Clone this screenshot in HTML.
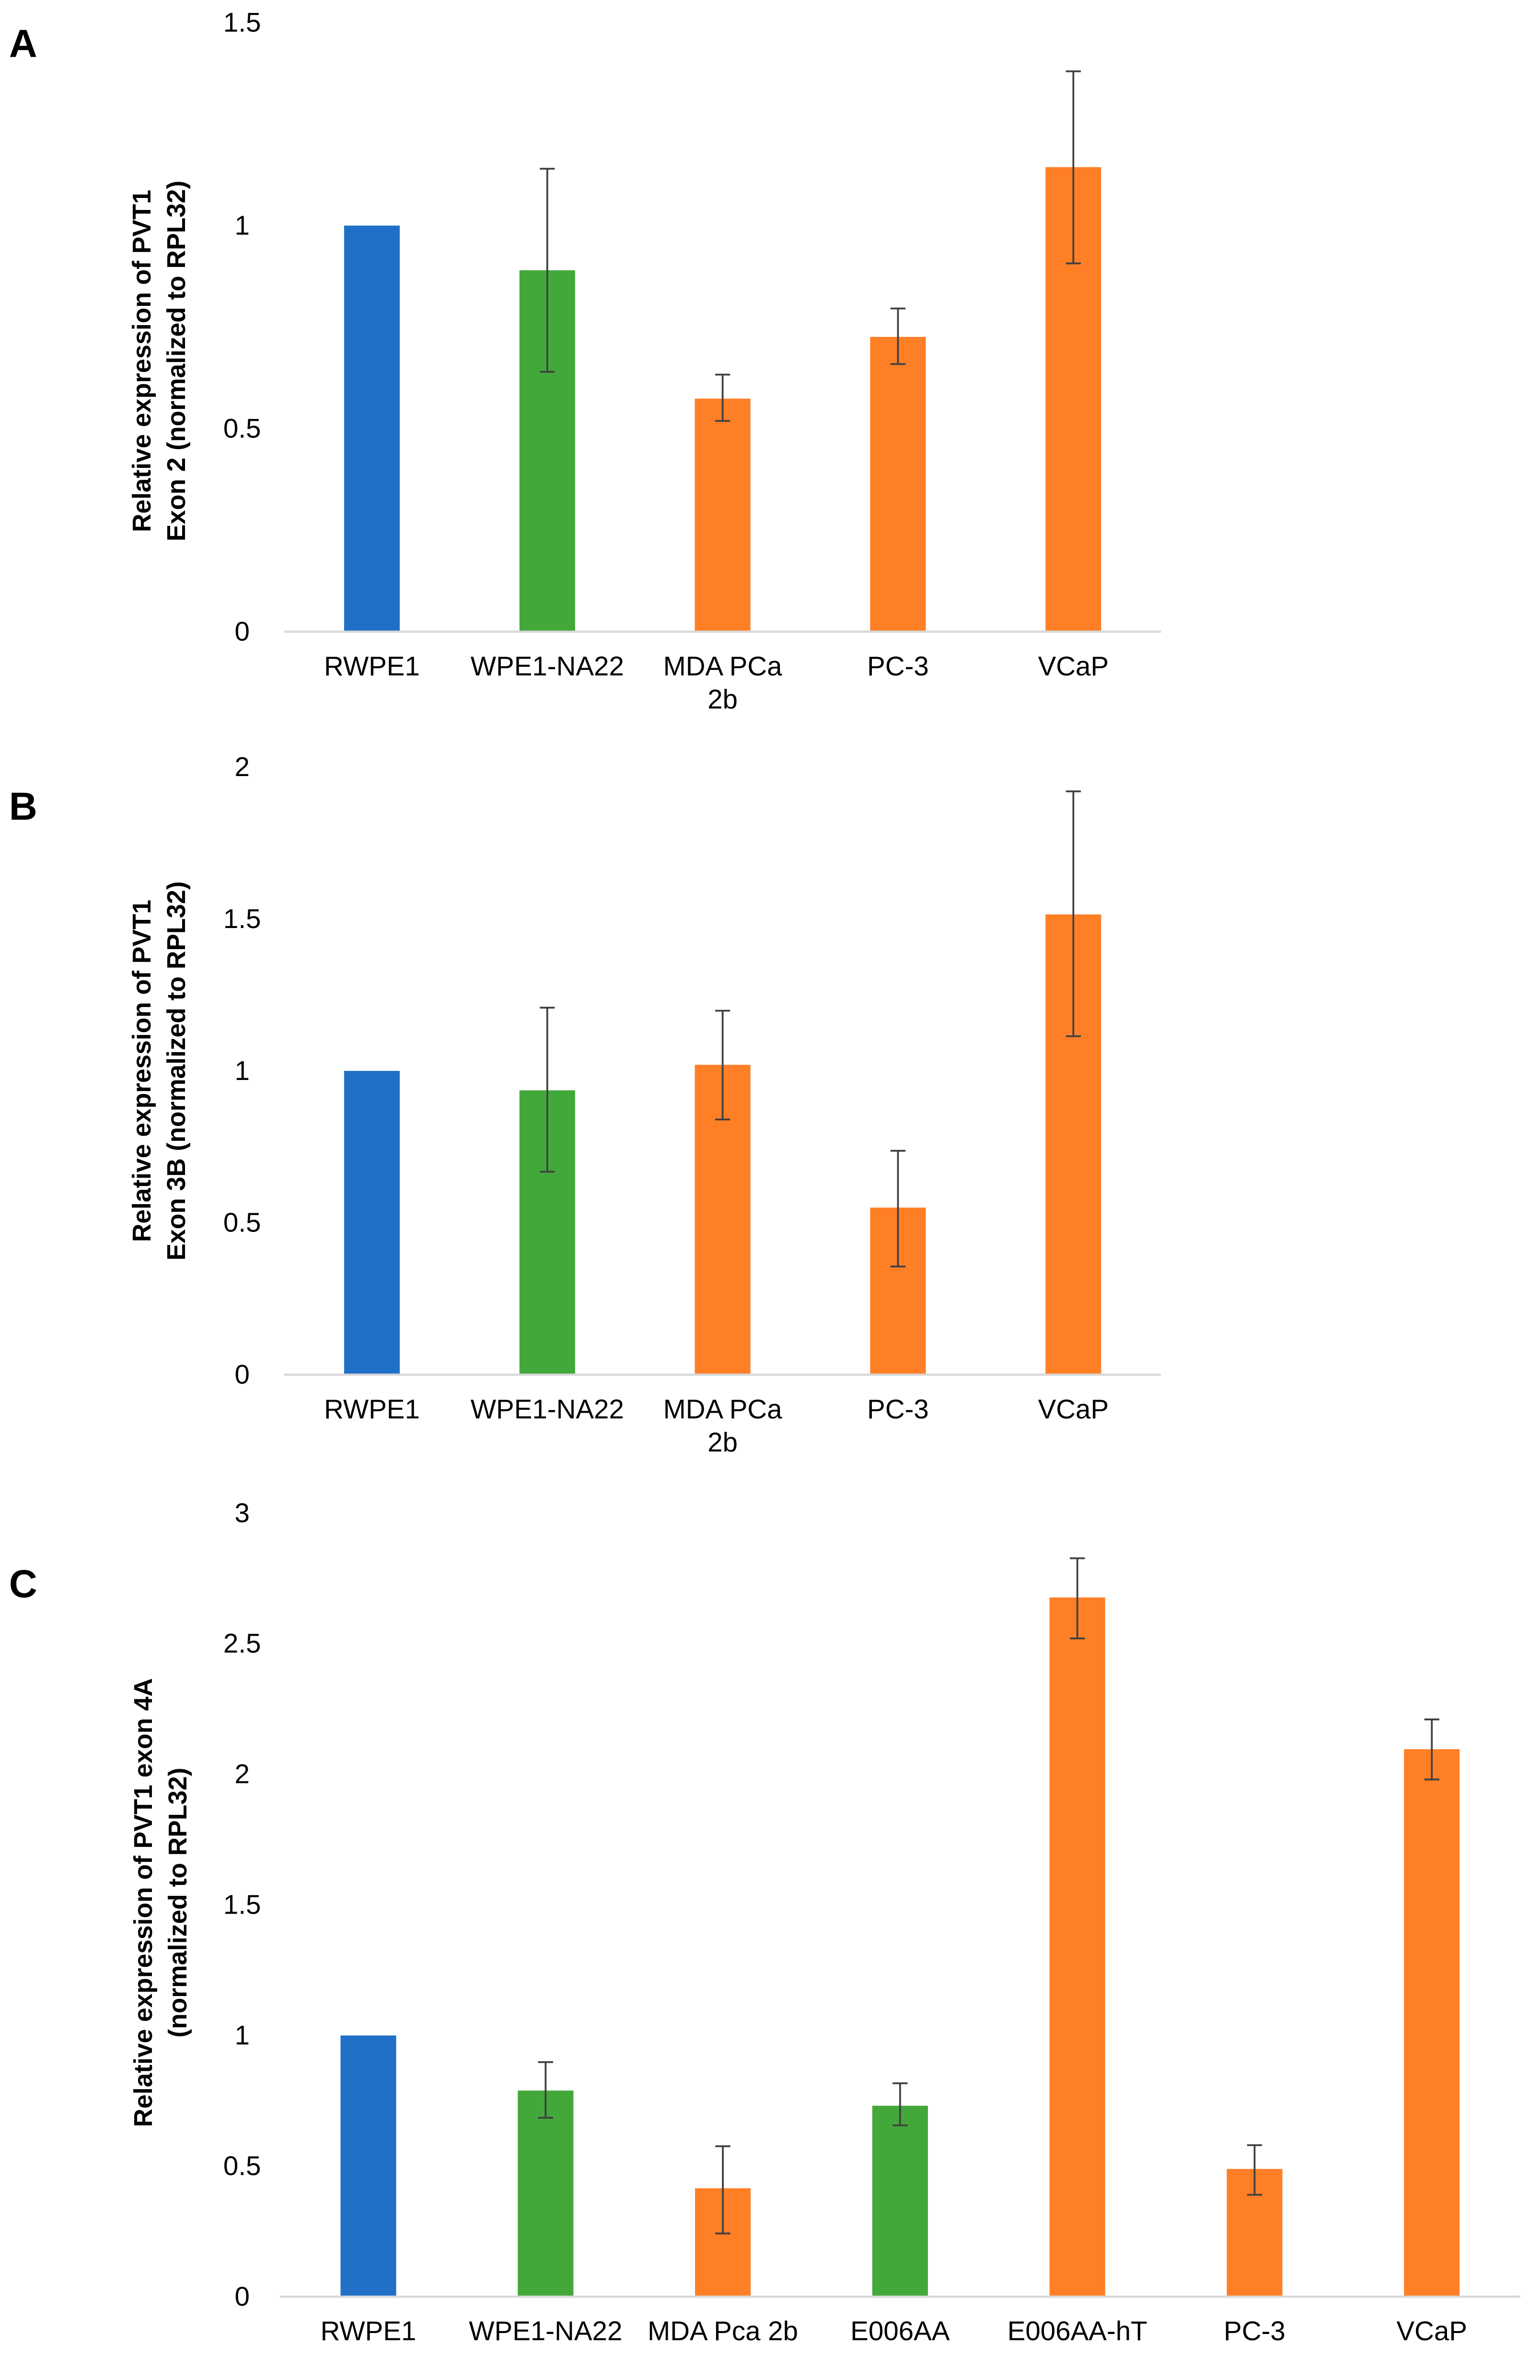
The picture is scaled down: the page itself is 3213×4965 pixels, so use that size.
<!DOCTYPE html>
<html><head><meta charset="utf-8">
<style>
html,body{margin:0;padding:0;background:#fff;}
svg{display:block;}
text{font-family:"Liberation Sans Narrow","Liberation Sans",sans-serif;fill:#000;}
.tick{font-size:18px;}
.title{font-size:17px;font-weight:bold;font-family:"Liberation Sans",sans-serif;}
.panel{font-size:26px;font-weight:bold;font-family:"Liberation Sans",sans-serif;}
</style></head>
<body>
<svg id="fig" width="3213" height="4965" viewBox="0 0 1024 1582.4" xmlns="http://www.w3.org/2000/svg"></svg>
<script>
// Panel A
const catsA = ["RWPE1","WPE1-NA22","MDA PCa|2b","PC-3","VCaP"];
const valsA = [1.0,0.89,0.574,0.726,1.144];
const errLoA = [1.0,0.64,0.519,0.659,0.907];
const errHiA = [1.0,1.14,0.633,0.796,1.38];
const colA = ["#2070c8","#43a83a","#ff7f27","#ff7f27","#ff7f27"];
const ticksA = ["0","0.5","1","1.5"];
const tickValsA = [0,0.5,1,1.5];
// Panel B
const catsB = ["RWPE1","WPE1-NA22","MDA PCa|2b","PC-3","VCaP"];
const valsB = [1.0,0.936,1.02,0.55,1.515];
const errLoB = [1.0,0.668,0.84,0.356,1.114];
const errHiB = [1.0,1.208,1.198,0.737,1.92];
const colB = ["#2070c8","#43a83a","#ff7f27","#ff7f27","#ff7f27"];
const ticksB = ["0","0.5","1","1.5","2"];
const tickValsB = [0,0.5,1,1.5,2];
// Panel C
const catsC = ["RWPE1","WPE1-NA22","MDA Pca 2b","E006AA","E006AA-hT","PC-3","VCaP"];
const valsC = [1.0,0.789,0.415,0.731,2.677,0.489,2.096];
const errLoC = [1.0,0.685,0.242,0.656,2.52,0.39,1.98];
const errHiC = [1.0,0.898,0.576,0.817,2.827,0.58,2.21];
const colC = ["#2070c8","#43a83a","#ff7f27","#43a83a","#ff7f27","#ff7f27","#ff7f27"];
const ticksC = ["0","0.5","1","1.5","2","2.5","3"];
const tickValsC = [0,0.5,1,1.5,2,2.5,3];

const NS="http://www.w3.org/2000/svg";
const svg=document.getElementById('fig');
function mk(tag,attrs,parent){const e=document.createElementNS(NS,tag);for(const k in attrs)e.setAttribute(k,attrs[k]);(parent||svg).appendChild(e);return e;}

function panel(p){
  const g=mk('g',{});
  
  
  const yMax=p.tickVals[p.tickVals.length-1];
  const y=v=>p.y0-(v/yMax)*(p.y0-p.yTop);
  const band=(p.x1-p.x0)/p.cats.length;
  const xc=i=>p.x0+band*(i+0.5);
  // panel letter
  const L=mk('text',{x:p.letterX,y:p.letterY,class:'panel'},g);L.textContent=p.letter;
  
  
  // ticks
  p.ticks.forEach((t,i)=>{
    const tx=mk('text',{x:p.tickX,y:y(p.tickVals[i])+6,class:'tick','text-anchor':'middle'},g);
    tx.textContent=t;
    
    
  });
  // bars
  p.vals.forEach((v,i)=>{
    const bw=37;
    const r=mk('rect',{x:xc(i)-bw/2,y:y(v),width:bw,height:y(0)-y(v),fill:p.cols[i]},g);
    
    
  });
  // axis
  const ax=mk('line',{x1:p.x0,x2:p.x1,y1:p.y0,y2:p.y0,stroke:'#d9d9d9','stroke-width':1.5},g);
  
  
  // error bars
  p.vals.forEach((v,i)=>{
    if(p.hi[i]-p.lo[i]<0.005)return;
    const eg=mk('g',{stroke:'#404040','stroke-width':1.2},g);
    
    
    const x=xc(i);
    mk('line',{x1:x,x2:x,y1:y(p.lo[i]),y2:y(p.hi[i])},eg);
    mk('line',{x1:x-5,x2:x+5,y1:y(p.lo[i]),y2:y(p.lo[i])},eg);
    mk('line',{x1:x-5,x2:x+5,y1:y(p.hi[i]),y2:y(p.hi[i])},eg);
  });
  // category labels
  p.cats.forEach((c,i)=>{
    const parts=c.split('|');
    parts.forEach((s,j)=>{
      const t=mk('text',{x:xc(i),y:p.y0+29+j*22,class:'tick','text-anchor':'middle'},g);
      t.textContent=s;
      
      
    });
  });
  // y title
  const tg=mk('text',{transform:`translate(${p.titleX},${p.titleY}) rotate(-90)`,class:'title','text-anchor':'middle'},g);
  
  
  p.title.forEach((s,j)=>{const ts=mk('tspan',{x:0,y:j*23},tg);ts.textContent=s;});
}

panel({id:'a',letter:'A',letterX:6,letterY:38,cats:catsA,vals:valsA,lo:errLoA,hi:errHiA,cols:colA,ticks:ticksA,tickVals:tickValsA,
  y0:420,yTop:15,x0:189,x1:772,tickX:161,titleX:100,titleY:240,title:["Relative expression  of PVT1","Exon 2 (normalized to RPL32)"]});
panel({id:'b',letter:'B',letterX:6,letterY:545,cats:catsB,vals:valsB,lo:errLoB,hi:errHiB,cols:colB,ticks:ticksB,tickVals:tickValsB,
  y0:914,yTop:510,x0:189,x1:772,tickX:161,titleX:100,titleY:712,title:["Relative expression  of PVT1","Exon  3B (normalized to RPL32)"]});
panel({id:'c',letter:'C',letterX:6,letterY:1062,cats:catsC,vals:valsC,lo:errLoC,hi:errHiC,cols:colC,ticks:ticksC,tickVals:tickValsC,
  y0:1527,yTop:1006,x0:186,x1:1011,tickX:161,titleX:101,titleY:1265,title:["Relative expression of PVT1 exon 4A","(normalized to RPL32)"]});
</script>
</body></html>
